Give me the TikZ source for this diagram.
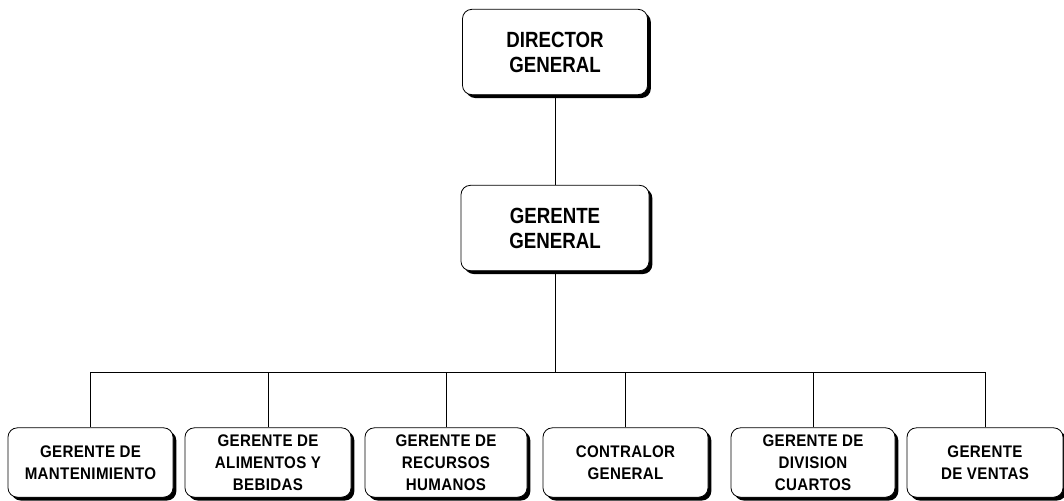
\documentclass[tikz,border=0pt]{standalone}
\usepackage{fontspec}
\setmainfont{Liberation Sans}[FakeStretch=0.85]
\newfontfamily\lowfont{Liberation Sans}[FakeStretch=0.9, LetterSpace=2]
\usetikzlibrary{shadows}
\newcommand{\px}{0.75pt}

\begin{document}
\begin{tikzpicture}[x=0.75pt,y=-0.75pt,
  box/.style={draw, line width=0.6pt, rounded corners=7pt, fill=white, align=center,
    drop shadow={shadow xshift=2.5pt, shadow yshift=-2.5pt, opacity=1, fill=black}},
  topbox/.style={box, font=\fontsize{16.5}{18.75}\selectfont\bfseries, minimum height=64pt},
  lowbox/.style={box, font=\lowfont\fontsize{12.6}{16.5}\selectfont\bfseries, minimum height=52pt, inner sep=1pt},
  link/.style={line width=0.7pt}]
\useasboundingbox (0,0) rectangle (1064,500);

\node[topbox, minimum width=185*\px] (dg) at (555,52) {DIRECTOR\\GENERAL};
\node[topbox, minimum width=188*\px] (gg) at (555,228) {GERENTE\\GENERAL};
\draw[link] (dg.south) -- (gg.north);

\coordinate (bus) at (555,372);
\draw[link] (gg.south) -- (bus);

\foreach \name/\cx/\w/\txt in {mant/90.5/165/{GERENTE DE\\MANTENIMIENTO},
    alim/268/166/{GERENTE DE\\ALIMENTOS Y\\BEBIDAS},
    rrhh/446/162/{GERENTE DE\\RECURSOS\\HUMANOS},
    cont/625.5/165/{CONTRALOR\\GENERAL},
    cuar/813/164/{GERENTE DE\\DIVISION\\CUARTOS},
    vent/985/156/{GERENTE\\DE VENTAS}}{%
  \node[lowbox, minimum width=\w*\px] (\name) at (\cx,462.5) {\txt};
  \draw[link] (\name.north) -- (\name.north |- bus);
}
\draw[link] (mant.north |- bus) -- (vent.north |- bus);
\end{tikzpicture}
\end{document}
